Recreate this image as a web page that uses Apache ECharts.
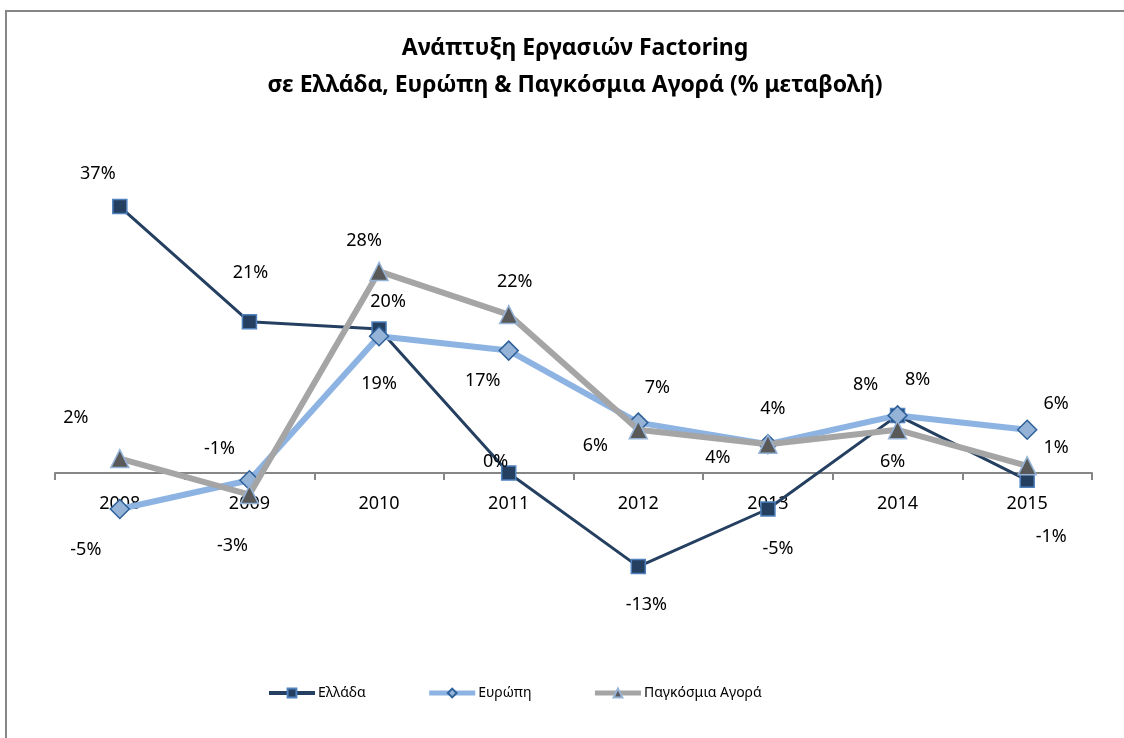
<!DOCTYPE html>
<html>
<head>
<meta charset="utf-8">
<script src="https://cdn.jsdelivr.net/npm/echarts@6/dist/echarts.min.js"></script>
<style>
  html, body { margin: 0; padding: 0; background: #fff; }
  #lineChart { width: 1124px; height: 738px; }
</style>
</head>
<body>
<div id="lineChart"></div>
<script>
// κατηγορίες (έτη)
const years = ['2008', '2009', '2010', '2011', '2012', '2013', '2014', '2015']
// % μεταβολή ανά αγορά
const ellada = [37, 21, 20, 0, -13, -5, 8, -1]
const evropi = [-5, -1, 19, 17, 7, 4, 8, 6]
const pagkosmia = [2, -3, 28, 22, 6, 4, 6, 1]
const seriesNames = ['Ελλάδα', 'Ευρώπη', 'Παγκόσμια Αγορά']

// θέσεις ετικετών (px) σε σχέση με το σημείο
const offEllada = [[-22, -33], [1, -49], [9, -27], [-13, -11], [8, 38], [10, 40], [-32, -31], [24, 57]]
const offEvropi = [[-34, 41], [-30, -31], [0, 48], [-26, 30], [19, -35], [5, -35], [20, -36], [29, -26]]
const offPagk = [[-44, -41], [-17, 51], [-15, -31], [6, -33], [-43, 16], [-50, 14], [-5, 32], [29, -18]]

const FONT = 'Noto Sans'

function withLabels(values, offsets) {
  return values.map((v, i) => ({
    value: v,
    label: { offset: offsets[i] }
  }))
}

const chart = echarts.init(document.getElementById('lineChart'))

const labelStyle = {
  show: true,
  position: 'inside',
  color: '#000',
  fontFamily: FONT,
  fontSize: 18,
  formatter: p => p.value + '%'
}

const option = {
  backgroundColor: '#fff',
  animation: false,
  graphic: [{
    type: 'rect',
    shape: { x: 6, y: 11, width: 1130, height: 740 },
    style: { fill: 'none', stroke: '#868686', lineWidth: 2 },
    silent: true
  }],
  title: {
    text: 'Ανάπτυξη Εργασιών Factoring\nσε Ελλάδα, Ευρώπη & Παγκόσμια Αγορά (% μεταβολή)',
    left: 570,
    top: 25,
    textAlign: 'center',
    textStyle: {
      fontFamily: FONT,
      fontSize: 23,
      fontWeight: 'bold',
      color: '#000',
      lineHeight: 37
    }
  },
  legend: {
    left: 262,
    top: 681,
    itemWidth: 46,
    itemHeight: 11,
    itemGap: 61,
    textStyle: { fontFamily: FONT, fontSize: 14, color: '#000', padding: [0, 0, 0, -2] },
    data: [
      { name: seriesNames[0], lineStyle: { width: 4 } },
      { name: seriesNames[1], lineStyle: { width: 5 } },
      { name: seriesNames[2], lineStyle: { width: 5 } }
    ]
  },
  grid: {
    left: 55,
    right: 32,
    top: 149,
    bottom: 121
  },
  xAxis: {
    type: 'category',
    data: years,
    boundaryGap: true,
    axisLine: { onZero: true, lineStyle: { color: '#868686', width: 2 } },
    axisTick: { show: true, length: 7, lineStyle: { color: '#868686', width: 2 } },
    // οι ετικέτες μένουν στο κάτω μέρος του grid, τις ανεβάζουμε στον άξονα του 0
    axisLabel: { color: '#000', fontFamily: FONT, fontSize: 18, margin: -122 }
  },
  yAxis: {
    type: 'value',
    min: -20,
    max: 45,
    show: false,
    splitLine: { show: false }
  },
  series: [
    {
      name: seriesNames[0],
      type: 'line',
      data: withLabels(ellada, offEllada),
      symbol: 'rect',
      symbolSize: 14,
      lineStyle: { color: '#243F60', width: 3 },
      itemStyle: { color: '#243F60', borderColor: '#4F81BD', borderWidth: 1.5 },
      label: labelStyle,
      z: 2
    },
    {
      name: seriesNames[1],
      type: 'line',
      data: withLabels(evropi, offEvropi),
      symbol: 'diamond',
      symbolSize: 19,
      lineStyle: { color: '#8DB3E2', width: 6 },
      itemStyle: { color: '#95B3D7', borderColor: '#2E6099', borderWidth: 1.5 },
      label: labelStyle,
      z: 3
    },
    {
      name: seriesNames[2],
      type: 'line',
      data: withLabels(pagkosmia, offPagk),
      symbol: 'triangle',
      symbolSize: 18,
      lineStyle: { color: '#A5A5A5', width: 6 },
      itemStyle: { color: '#595959', borderColor: '#95B3D7', borderWidth: 1.5 },
      label: labelStyle,
      z: 4
    }
  ]
}

chart.setOption(option)
window.addEventListener('resize', () => {
  chart.resize()
})
</script>
</body>
</html>
